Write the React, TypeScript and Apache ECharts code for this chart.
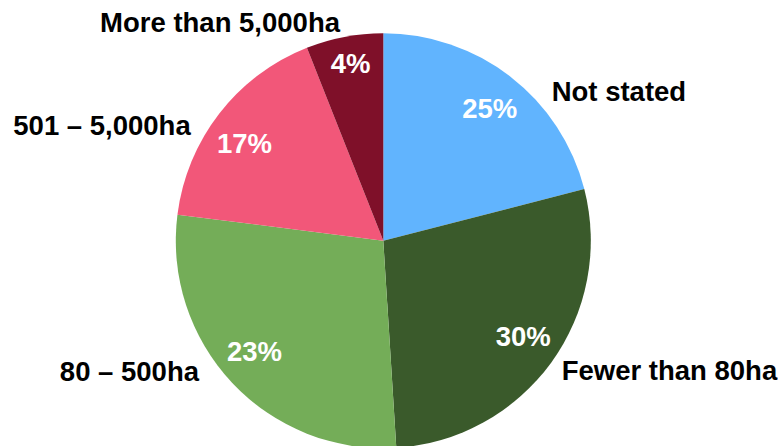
import React, { useEffect, useRef } from "react";
import * as echarts from "echarts";

const categories = ["Not stated", "Fewer than 80ha", "80 – 500ha", "501 – 5,000ha", "More than 5,000ha"];
// angular share of each slice as drawn (percent of the circle)
const sliceShares = [21, 28, 28, 17, 6];
// percentage printed on each slice
const percentLabels = ["25%", "30%", "23%", "17%", "4%"];

const sliceColors = ["#61b4fe", "#3a5a2b", "#74ad58", "#f25779", "#7f1029"];

// label placement (layout only)
const nameLabelPos: [number, number, string][] = [
  [551.7, 91.5, "left"],
  [561.7, 370, "left"],
  [199, 371, "right"],
  [190.7, 125.3, "right"],
  [340, 22.5, "right"],
];
const percentLabelPos: [number, number][] = [
  [489.7, 108.3],
  [523.3, 336],
  [254.5, 351.8],
  [244.5, 143.3],
  [350.5, 63],
];

const FONT = "'Liberation Sans', Arial, Helvetica, sans-serif";
const FONT_SIZE = 27.5;

export default function App() {
  const ref = useRef<HTMLDivElement>(null);
  useEffect(() => {
    if (!ref.current) return;
    const chart = echarts.init(ref.current, null, { renderer: "svg" });
    const data = categories.map((name, i) => ({
      name,
      value: sliceShares[i],
      itemStyle: { color: sliceColors[i] },
    }));
    const overlayData = categories.map((name, i) => ({
      name,
      value: sliceShares[i],
      label: { formatter: percentLabels[i] },
    }));
    chart.setOption({
      animation: false,
      backgroundColor: "#ffffff",
      series: [
        {
          type: "pie",
          center: [383.3, 240.7],
          radius: 207.5,
          startAngle: 90,
          clockwise: true,
          avoidLabelOverlap: false,
          silent: true,
          itemStyle: { borderWidth: 0 },
          label: {
            show: true,
            position: "outside",
            formatter: "{b}",
            color: "#000000",
            fontFamily: FONT,
            fontWeight: "bold",
            fontSize: FONT_SIZE,
          },
          labelLine: { show: false },
          labelLayout: (params: any) => {
            const p = nameLabelPos[params.dataIndex];
            return { x: p[0], y: p[1], align: p[2], verticalAlign: "middle" };
          },
          emphasis: { disabled: true },
          data,
        },
        {
          type: "pie",
          center: [383.3, 240.7],
          radius: 207.5,
          startAngle: 90,
          clockwise: true,
          avoidLabelOverlap: false,
          silent: true,
          itemStyle: { color: "rgba(0,0,0,0)", borderWidth: 0 },
          label: {
            show: true,
            position: "inside",
            color: "#ffffff",
            fontFamily: FONT,
            fontWeight: "bold",
            fontSize: FONT_SIZE,
          },
          labelLine: { show: false },
          labelLayout: (params: any) => {
            const p = percentLabelPos[params.dataIndex];
            return { x: p[0], y: p[1], align: "center", verticalAlign: "middle" };
          },
          emphasis: { disabled: true },
          data: overlayData,
        },
      ],
    });
    return () => chart.dispose();
  }, []);
  return (
    <div
      ref={ref}
      style={{ position: "fixed", left: 0, top: 0, width: 778, height: 446, background: "#fff" }}
    />
  );
}
